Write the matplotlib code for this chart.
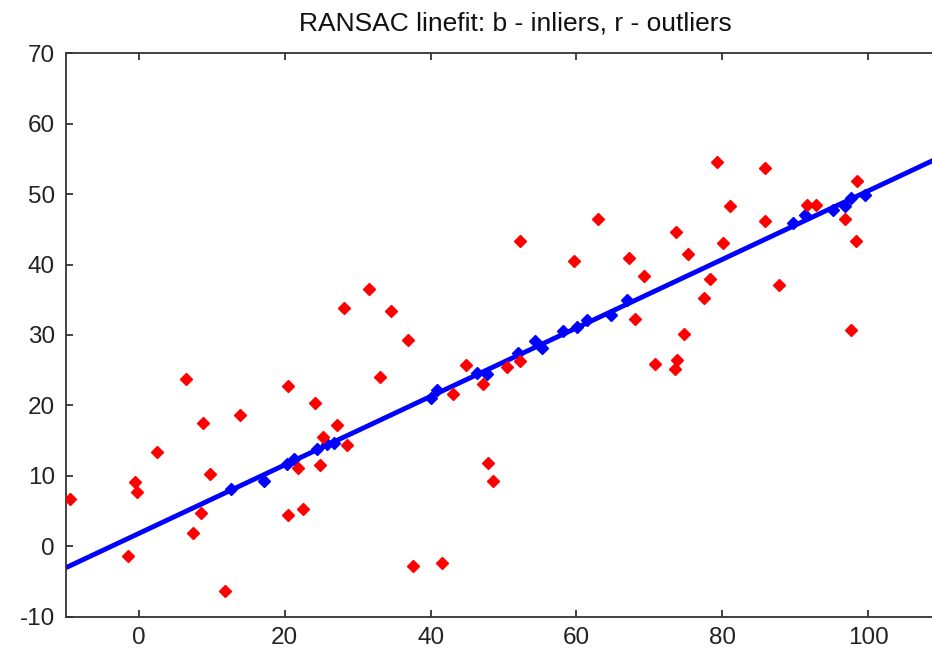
import matplotlib
matplotlib.use("Agg")
import matplotlib.pyplot as plt

# Outliers (red)
out_x = [-9.4, 6.4, 2.5, -0.55, -0.2, -1.45, 8.8, 13.9, 9.7, 8.5, 7.4, 11.8,
         20.5, 24.2, 27.2, 25.2, 28.5, 21.8, 24.8, 20.5, 22.5,
         52.3, 59.6, 31.5, 28.1, 34.5, 36.9, 33.0, 44.8, 43.0, 47.2, 50.5, 52.3,
         47.8, 48.6, 37.6, 41.5,
         79.2, 85.9, 98.5, 81.1, 85.9, 91.6, 92.8, 96.8, 98.3, 73.6, 80.1, 63.0,
         67.2, 75.3, 69.3, 78.3, 77.5, 68.0, 87.8, 74.8, 97.7, 73.8, 73.5, 70.8]
out_y = [6.8, 23.7, 13.4, 9.1, 7.8, -1.3, 17.5, 18.7, 10.3, 4.7, 1.9, -6.3,
         22.8, 20.3, 17.2, 15.6, 14.4, 11.2, 11.5, 4.4, 5.3,
         43.4, 40.5, 36.5, 33.9, 33.4, 29.3, 24.1, 25.7, 21.6, 23.1, 25.5, 26.3,
         11.8, 9.3, -2.7, -2.4,
         54.6, 53.7, 51.8, 48.3, 46.2, 48.4, 48.4, 46.4, 43.3, 44.6, 43.1, 46.4,
         40.9, 41.5, 38.3, 38.0, 35.2, 32.3, 37.1, 30.1, 30.7, 26.5, 25.2, 25.9]

# Inliers (blue)
in_x = [12.6, 17.2, 20.3, 21.2, 24.4, 25.8, 26.7, 40.0, 40.9, 46.4, 47.7,
        52.0, 54.3, 55.3, 58.2, 60.1, 61.4, 64.8, 66.9, 89.7, 91.3, 95.2,
        96.8, 97.7, 99.5]
in_y = [8.2, 9.3, 11.7, 12.4, 13.8, 14.5, 14.7, 21.1, 22.2, 24.6, 24.4,
        27.5, 29.1, 28.2, 30.5, 31.2, 32.1, 32.9, 34.9, 45.9, 47.0, 47.7,
        48.3, 49.5, 49.9]

# Fitted line endpoints
line_x = [-10, 110]
line_y = [-3.0, 55.3]

xticks = [0, 20, 40, 60, 80, 100]
yticks = [-10, 0, 10, 20, 30, 40, 50, 60, 70]

plt.rcParams['font.family'] = ['Liberation Sans', 'DejaVu Sans']
plt.rcParams['axes.unicode_minus'] = False

fig = plt.figure(figsize=(9.32, 6.52), dpi=100)
ax = fig.add_axes([0.0708, 0.0537, 0.939, 0.865])

ax.plot(line_x, line_y, color='#0000ff', lw=3.5, solid_capstyle='butt', zorder=2)
ax.plot(in_x, in_y, linestyle='none', marker='D', markersize=6.5,
        color='#0000ff', mec='#0000ff', zorder=3)
ax.plot(out_x, out_y, linestyle='none', marker='D', markersize=6.5,
        color='#ff0000', mec='#ff0000', zorder=4)

ax.set_xlim(-10, 110)
ax.set_ylim(-10, 70)
ax.set_xticks(xticks)
ax.set_yticks(yticks)
ax.tick_params(direction='in', length=5, width=1.2, top=True, right=True,
               labelsize=17.5, colors='#222222')
ax.tick_params(axis='y', pad=8)
ax.tick_params(axis='x', pad=7.5)
for s in ax.spines.values():
    s.set_linewidth(1.3)
    s.set_color('#333333')

ax.set_title("RANSAC linefit: b - inliers, r - outliers", fontsize=19, pad=16,
             color='#111111', x=0.514)

fig.savefig("out.png", dpi=100)
